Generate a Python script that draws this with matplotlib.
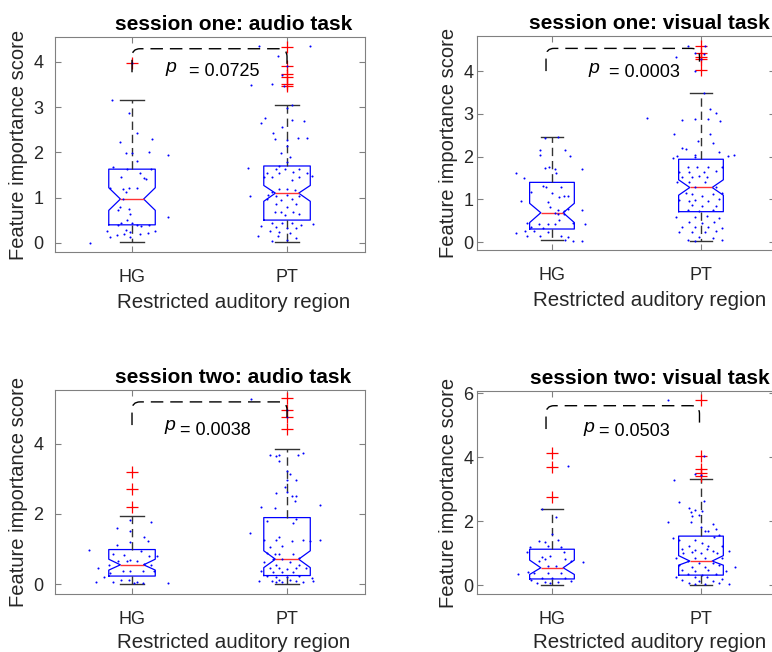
import matplotlib
matplotlib.use("Agg")
import matplotlib.pyplot as plt
from matplotlib.path import Path
from matplotlib.patches import PathPatch

plt.rcParams["font.family"] = ["Liberation Sans", "DejaVu Sans"]


# DATA

REGIONS = ["HG", "PT"]
TITLES = ["session one: audio task", "session one: visual task",
          "session two: audio task", "session two: visual task"]
P_VALUES = ["0.0725", "0.0003", "0.0038", "0.0503"]

# box stats: median, q1, q3, lower whisker, upper whisker, notch low, notch high
S1A_HG_BOX = [0.97, 0.40, 1.63, 0.01, 3.16, 0.72, 1.22]
S1A_PT_BOX = [1.10, 0.505, 1.70, 0.02, 3.05, 0.92, 1.27]
S1V_HG_BOX = [0.69, 0.31, 1.40, 0.05, 2.47, 0.46, 0.91]
S1V_PT_BOX = [1.28, 0.715, 1.94, 0.04, 3.48, 1.10, 1.46]
S2A_HG_BOX = [0.55, 0.23, 0.985, 0.0, 1.94, 0.40, 0.71]
S2A_PT_BOX = [0.71, 0.245, 1.895, 0.0, 3.85, 0.47, 0.95]
S2V_HG_BOX = [0.54, 0.19, 1.12, 0.0, 2.37, 0.33, 0.78]
S2V_PT_BOX = [0.75, 0.31, 1.53, 0.0, 3.33, 0.62, 0.92]

# outliers (red crosses)
S1A_HG_OUT = [3.97]
S1A_PT_OUT = [4.33, 3.91, 3.74, 3.67, 3.52, 3.47]
S1V_HG_OUT = []
S1V_PT_OUT = [4.58, 4.42, 4.34, 4.29, 4.03]
S2A_HG_OUT = [3.18, 2.72, 2.21]
S2A_PT_OUT = [5.29, 4.96, 4.75, 4.41]
S2V_HG_OUT = [4.12, 3.70, 2.74]
S2V_PT_OUT = [5.79, 4.05, 3.62, 3.50, 3.41]

# individual scores (blue dots) and their horizontal jitter
S1A_HG_Y = [3.97, 3.15, 2.88, 2.42, 2.22, 2.29, 1.99, 1.99, 2.01, 1.94, 1.82, 1.67,
            1.64, 1.55, 1.63, 1.45, 1.43, 1.41, 1.21, 1.20, 1.21, 1.22, 1.12, 0.97,
            0.80, 0.75, 0.73, 0.58, 0.64, 0.51, 0.44, 0.45, 0.40, 0.39, 0.38, 0.40,
            0.29, 0.26, 0.24, 0.27, 0.18, 0.20, 0.20, 0.21, 0.00, 0.13, 0.14]
S1A_HG_DX = [0.00, -0.13, -0.02, 0.03, -0.08, 0.13, -0.04, 0.00, 0.11, 0.23, 0.03, -0.12,
             -0.03, 0.05, 0.12, -0.07, 0.08, 0.09, -0.14, -0.06, -0.02, 0.03, -0.04, -0.06,
             -0.08, -0.02, -0.09, 0.23, -0.01, -0.03, -0.07, 0.00, -0.09, 0.03, 0.06, 0.11,
             -0.04, -0.16, -0.01, 0.15, -0.10, -0.05, 0.05, 0.10, -0.27, -0.01, -0.14]

S1A_PT_Y = [4.34, 4.34, 4.12, 3.91, 3.70, 3.52, 3.48, 3.47, 3.04, 2.99, 2.77, 2.65, 2.71,
            2.70, 2.56, 2.42, 2.29, 2.28, 2.32, 2.32, 2.14, 1.99, 1.90, 1.79, 1.70,
            1.66, 1.64, 1.63, 1.63, 1.55, 1.54, 1.57, 1.55, 1.46, 1.46, 1.45, 1.47,
            1.39, 1.19, 1.19, 1.18, 1.13, 1.04, 1.06, 1.03, 1.06, 1.03, 0.97, 0.95,
            0.97, 0.86, 0.85, 0.80, 0.69, 0.68, 0.68, 0.64, 0.62, 0.45, 0.44, 0.45,
            0.40, 0.42, 0.37, 0.36, 0.33, 0.32, 0.26, 0.25, 0.23, 0.15, 0.15, 0.11,
            0.04, 0.07]
S1A_PT_DX = [-0.18, 0.15, -0.06, 0.00, -0.03, -0.10, -0.23, -0.02, 0.03, 0.00, -0.14, -0.17, 0.03,
             0.11, -0.03, -0.09, -0.08, 0.00, 0.07, 0.13, 0.00, -0.04, 0.02, 0.00, -0.05,
             -0.25, -0.07, -0.01, 0.08, -0.13, -0.05, 0.04, 0.13, -0.15, -0.10, 0.08, 0.16,
             0.03, -0.05, 0.00, 0.05, -0.10, -0.24, -0.12, -0.07, 0.00, 0.08, -0.13, -0.04,
             0.03, -0.07, 0.06, 0.00, -0.08, -0.04, 0.04, 0.08, -0.01, -0.10, -0.03, 0.03,
             0.09, 0.17, -0.17, -0.07, 0.00, 0.06, -0.11, -0.05, 0.02, -0.19, -0.06, 0.06,
             -0.10, 0.00]

S1V_HG_Y = [2.43, 2.47, 2.16, 2.16, 2.04, 2.02, 1.74, 1.75, 1.72, 1.72, 1.61, 1.61, 1.50,
            1.32, 1.30, 1.30, 1.18, 1.14, 1.09, 1.05, 1.07, 0.97, 0.93, 0.83, 0.75,
            0.77, 0.75, 0.68, 0.66, 0.65, 0.52, 0.72, 0.44, 0.43, 0.43, 0.42, 0.44,
            0.43, 0.36, 0.34, 0.26, 0.26, 0.25, 0.21, 0.15, 0.13, 0.15, 0.14, 0.03,
            0.03, 0.05]
S1V_HG_DX = [-0.05, 0.04, -0.08, 0.09, -0.08, 0.12, -0.05, -0.02, 0.02, 0.20, -0.24, 0.03, -0.19,
             -0.06, -0.04, 0.06, -0.14, 0.00, 0.08, 0.05, 0.11, -0.21, -0.03, -0.01, 0.04,
             0.11, 0.20, 0.02, 0.04, 0.08, 0.05, 0.08, -0.17, -0.09, -0.03, 0.02, 0.14,
             0.22, -0.14, -0.06, -0.18, -0.12, -0.03, -0.24, 0.06, 0.11, -0.08, -0.17, 0.14,
             0.20, 0.09]

S1V_PT_Y = [4.59, 4.58, 4.32, 4.43, 4.41, 4.29, 4.01, 3.48, 2.91, 2.86, 2.87, 3.11, 3.03,
            2.87, 2.83, 2.53, 2.53, 2.37, 2.33, 2.20, 2.18, 2.12, 2.04, 2.02, 2.02,
            2.00, 2.04, 1.98, 1.77, 1.77, 1.75, 1.77, 1.65, 1.64, 1.65, 1.67, 1.53,
            1.53, 1.55, 1.52, 1.42, 1.40, 1.40, 1.30, 1.30, 1.14, 1.12, 1.13, 1.14,
            1.09, 0.99, 0.97, 0.99, 0.97, 1.00, 0.87, 0.85, 0.85, 0.75, 0.74, 0.75,
            0.60, 0.58, 0.61, 0.57, 0.48, 0.46, 0.47, 0.36, 0.36, 0.36, 0.34, 0.25,
            0.23, 0.24, 0.26, 0.13, 0.11, 0.05, 0.04, 0.06]
S1V_PT_DX = [-0.09, 0.03, -0.17, -0.04, 0.02, 0.00, -0.04, 0.02, -0.36, -0.13, -0.04, 0.06, 0.10,
             0.05, 0.13, -0.18, 0.06, -0.02, 0.08, -0.13, -0.10, 0.12, -0.04, 0.18, -0.16,
             -0.04, 0.22, -0.19, -0.09, 0.05, -0.03, 0.14, -0.15, -0.08, 0.02, 0.10, -0.13,
             -0.06, -0.01, 0.04, -0.16, -0.08, 0.03, -0.04, 0.10, -0.10, -0.06, 0.08, 0.14,
             0.01, -0.15, -0.08, -0.04, 0.05, 0.12, -0.06, 0.01, 0.10, -0.09, -0.01, 0.08,
             -0.17, -0.04, 0.04, 0.12, -0.08, 0.01, 0.09, -0.13, -0.04, 0.05, 0.14, -0.15,
             -0.06, 0.03, 0.10, -0.01, 0.08, -0.09, -0.04, 0.14]

S2A_HG_Y = [1.83, 1.76, 1.59, 1.52, 1.33, 1.23, 1.20, 1.12, 0.98, 0.95, 0.85, 0.82, 0.79,
            0.79, 0.69, 0.67, 0.66, 0.67, 0.57, 0.55, 0.55, 0.45, 0.38, 0.36, 0.38,
            0.37, 0.33, 0.19, 0.12, 0.12, 0.07, 0.03, 0.05, 0.05, 0.03, 0.04]
S2A_HG_DX = [-0.01, 0.12, -0.10, -0.01, 0.08, 0.10, -0.01, -0.10, -0.28, 0.06, -0.12, -0.05, 0.11,
             0.16, -0.01, -0.09, -0.03, 0.03, 0.08, 0.12, -0.15, -0.22, -0.06, -0.01, 0.07,
             0.14, -0.14, -0.18, -0.07, -0.02, 0.03, 0.23, -0.23, -0.12, 0.01, 0.07]

S2A_PT_Y = [5.27, 4.96, 4.75, 3.68, 3.69, 3.69, 3.74, 3.64, 3.51, 3.22, 3.13, 2.97, 2.97,
            2.78, 2.59, 2.62, 2.52, 2.50, 2.37, 2.26, 2.21, 2.16, 1.80, 1.85, 1.74,
            1.45, 1.35, 1.26, 1.27, 1.24, 1.26, 1.22, 1.27, 1.07, 1.08, 0.88, 0.86,
            0.85, 0.86, 0.74, 0.72, 0.72, 0.64, 0.62, 0.55, 0.54, 0.46, 0.47, 0.43,
            0.45, 0.46, 0.36, 0.35, 0.34, 0.34, 0.22, 0.21, 0.21, 0.22, 0.18, 0.12,
            0.11, 0.10, 0.09, 0.09, 0.09, 0.07, 0.06, 0.05]
S2A_PT_DX = [-0.23, 0.00, 0.00, -0.11, -0.05, 0.07, 0.10, -0.07, -0.05, 0.00, 0.02, 0.00, 0.06,
             -0.01, -0.07, 0.00, 0.03, 0.06, 0.05, 0.21, -0.17, -0.08, -0.13, 0.06, 0.04,
             -0.24, -0.05, -0.15, -0.07, 0.03, 0.10, 0.15, 0.21, -0.11, -0.03, -0.13, -0.08,
             -0.05, 0.04, 0.08, -0.09, -0.03, -0.15, 0.02, -0.07, 0.08, -0.11, -0.05, 0.00,
             0.06, 0.12, -0.17, -0.09, -0.03, 0.04, -0.13, -0.07, 0.00, 0.08, 0.16, -0.05,
             0.02, -0.10, 0.06, -0.18, 0.17, -0.03, -0.07, 0.10]

S2V_HG_Y = [3.72, 2.37, 2.12, 1.60, 1.39, 1.35, 1.41, 1.18, 1.21, 1.18, 1.04, 1.04, 0.89,
            0.92, 0.80, 0.80, 0.75, 0.75, 0.72, 0.59, 0.58, 0.42, 0.39, 0.39, 0.38,
            0.36, 0.21, 0.21, 0.21, 0.16, 0.14, 0.10, 0.08, 0.06, 0.05]
S2V_HG_DX = [0.11, -0.07, 0.03, 0.00, -0.09, -0.05, 0.04, -0.15, -0.03, 0.06, -0.17, 0.08, -0.07,
             -0.01, -0.05, 0.09, -0.09, 0.13, 0.21, -0.03, 0.03, -0.16, -0.12, -0.03, 0.06,
             -0.23, -0.07, 0.00, 0.09, -0.14, 0.13, -0.05, 0.04, -0.10, -0.01]

S2V_PT_Y = [5.79, 4.05, 3.29, 3.46, 3.43, 2.61, 2.64, 2.42, 2.35, 2.30, 2.33, 2.19, 2.16,
            1.96, 1.96, 1.90, 1.83, 1.75, 1.69, 1.68, 1.56, 1.46, 1.42, 1.40, 1.49,
            1.31, 1.21, 1.21, 1.23, 1.13, 1.10, 1.14, 1.05, 1.04, 1.06, 1.01, 0.99,
            0.99, 0.84, 0.85, 0.85, 0.85, 0.76, 0.68, 0.68, 0.64, 0.57, 0.55, 0.62,
            0.57, 0.47, 0.45, 0.47, 0.45, 0.33, 0.32, 0.33, 0.26, 0.24, 0.24, 0.20,
            0.16, 0.14, 0.12, 0.05, 0.04, 0.05, 0.02, 0.02]
S2V_PT_DX = [-0.22, 0.02, -0.18, -0.04, 0.00, -0.15, 0.02, -0.08, -0.04, -0.07, 0.01, -0.01, -0.06,
             -0.22, -0.07, 0.08, 0.00, 0.10, 0.03, 0.05, 0.12, -0.19, -0.04, -0.15, 0.09,
             0.01, -0.08, 0.05, 0.14, -0.13, -0.04, 0.04, 0.08, -0.06, 0.19, 0.00, 0.11,
             -0.12, -0.17, -0.04, 0.03, 0.14, -0.09, -0.01, 0.08, -0.15, -0.06, 0.03, 0.12,
             0.23, -0.13, -0.04, 0.05, 0.17, -0.09, 0.01, 0.10, -0.17, -0.04, 0.04, 0.14,
             -0.13, -0.01, 0.08, -0.08, 0.03, 0.12, -0.04, 0.19]

# significance bracket: left start, top, right end
S1A_BRACKET = [3.77, 4.29, 3.80]
S1V_BRACKET = [4.00, 4.53, 4.22]
S2A_BRACKET = [4.53, 5.19, 4.55]
S2V_BRACKET = [4.88, 5.61, 4.88]

YLIMS = [(-0.2, 4.55), (-0.18, 4.82), (-0.28, 5.53), (-0.28, 6.07)]
YTICKS = [[0, 1, 2, 3, 4], [0, 1, 2, 3, 4], [0, 2, 4], [0, 2, 4, 6]]


# STYLE / LAYOUT

BLUE = "#0000ff"
AX_COLOR = "#808080"
TXT_COLOR = "#262626"

AX_POS = [
    [0.0706, 0.6135, 0.4016, 0.3298],
    [0.6185, 0.6166, 0.3860, 0.3282],
    [0.0706, 0.0890, 0.4016, 0.3129],
    [0.6185, 0.0890, 0.3860, 0.3113],
]
# bracket x ends, p label position (x of "p", x of "= ...", baseline y)
BRACKET_X = [(1.0, 2.0), (0.96, 1.99), (1.0, 2.0), (0.96, 1.99)]
P_POS = [(1.288, 1.368, 3.68), (1.317, 1.381, 3.86),
         (1.277, 1.310, 4.26), (1.284, 1.317, 4.66)]
YTICK_PAD = [8, 3, 8, 3]


def draw_bracket(ax, x1, x2, y1, ytop, y2):
    # dashed bracket with rounded corners of about 8 px
    fig = ax.figure
    pos = ax.get_position()
    w_px = pos.width * fig.get_figwidth() * fig.dpi
    h_px = pos.height * fig.get_figheight() * fig.dpi
    ylo, yhi = ax.get_ylim()
    rx = 8 / w_px * 2.0
    ry = 8 / h_px * (yhi - ylo)
    verts = [(x1, y1), (x1, ytop - ry), (x1, ytop), (x1 + rx, ytop),
             (x2 - rx, ytop), (x2, ytop), (x2, ytop - ry), (x2, y2)]
    codes = [Path.MOVETO, Path.LINETO, Path.CURVE3, Path.CURVE3,
             Path.LINETO, Path.CURVE3, Path.CURVE3, Path.LINETO]
    patch = PathPatch(Path(verts, codes), fill=False, edgecolor="black",
                      linewidth=1.0, linestyle=(0, (9, 5)), zorder=5)
    ax.add_patch(patch)


def make_stats(box, out):
    med, q1, q3, lo, hi, cilo, cihi = box
    return dict(med=med, q1=q1, q3=q3, whislo=lo, whishi=hi,
                cilo=cilo, cihi=cihi, fliers=out)


fig = plt.figure(figsize=(7.72, 6.52), dpi=100)

panels = [
    (S1A_HG_BOX, S1A_HG_OUT, S1A_HG_Y, S1A_HG_DX, S1A_PT_BOX, S1A_PT_OUT, S1A_PT_Y, S1A_PT_DX, S1A_BRACKET),
    (S1V_HG_BOX, S1V_HG_OUT, S1V_HG_Y, S1V_HG_DX, S1V_PT_BOX, S1V_PT_OUT, S1V_PT_Y, S1V_PT_DX, S1V_BRACKET),
    (S2A_HG_BOX, S2A_HG_OUT, S2A_HG_Y, S2A_HG_DX, S2A_PT_BOX, S2A_PT_OUT, S2A_PT_Y, S2A_PT_DX, S2A_BRACKET),
    (S2V_HG_BOX, S2V_HG_OUT, S2V_HG_Y, S2V_HG_DX, S2V_PT_BOX, S2V_PT_OUT, S2V_PT_Y, S2V_PT_DX, S2V_BRACKET),
]

for i, (hg_box, hg_out, hg_y, hg_dx, pt_box, pt_out, pt_y, pt_dx, br) in enumerate(panels):
    ax = fig.add_axes(AX_POS[i])

    stats = [make_stats(hg_box, hg_out), make_stats(pt_box, pt_out)]
    ax.bxp(stats, positions=[1, 2], widths=0.3, capwidths=0.15,
           shownotches=True, showfliers=True,
           boxprops=dict(color=BLUE, linewidth=0.9),
           medianprops=dict(color="#ff3333", linewidth=1.0),
           whiskerprops=dict(color="#333333", linewidth=1.0, linestyle=(0, (6, 3.5))),
           capprops=dict(color="#333333", linewidth=1.0),
           flierprops=dict(marker="+", markeredgecolor="red", markersize=8.5,
                           markeredgewidth=0.9, linestyle="none"))

    ax.scatter([1 + d for d in hg_dx], hg_y, s=2.2, color=BLUE, linewidths=0, zorder=4)
    ax.scatter([2 + d for d in pt_dx], pt_y, s=2.2, color=BLUE, linewidths=0, zorder=4)

    ax.set_xlim(0.5, 2.5)
    ax.set_ylim(*YLIMS[i])
    ax.set_yticks(YTICKS[i])
    ax.set_xticks([1, 2])
    ax.set_xticklabels(REGIONS)

    x1, x2 = BRACKET_X[i]
    draw_bracket(ax, x1, x2, br[0], br[1], br[2])

    # p-value label: italic p raised a little above the number
    px, eqx, py = P_POS[i]
    ax.annotate("p", xy=(px, py), xytext=(0, 3), textcoords="offset points",
                style="italic", fontsize=14, ha="right", va="baseline", color="black")
    ax.text(eqx, py, "= " + P_VALUES[i], fontsize=13, ha="left",
            va="baseline", color="black")

    for sp in ax.spines.values():
        sp.set_color(AX_COLOR)
        sp.set_linewidth(0.8)
    ax.tick_params(direction="in", length=4, width=0.8, color=AX_COLOR,
                   labelcolor=TXT_COLOR, labelsize=13, top=True, right=True)
    ax.tick_params(axis="x", pad=12)
    ax.tick_params(axis="y", pad=YTICK_PAD[i])

    ax.set_title(TITLES[i], fontsize=15, fontweight="bold", x=0.577, pad=5)
    ax.set_xlabel("Restricted auditory region", fontsize=14.8, color=TXT_COLOR)
    ax.xaxis.set_label_coords(0.577, -0.19)
    ax.set_ylabel("Feature importance score", fontsize=14.5, color=TXT_COLOR,
                  labelpad=4)

fig.savefig("out.png", dpi=100)
